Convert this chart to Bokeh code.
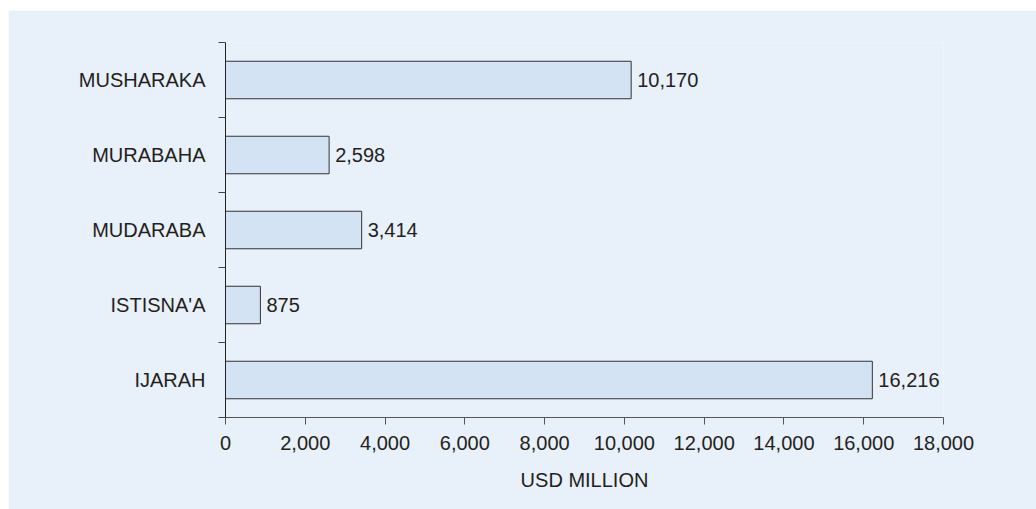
from bokeh.plotting import figure
from bokeh.models import Range1d, FixedTicker, NumeralTickFormatter, LinearAxis, ColumnDataSource
from bokeh.core.properties import value
from bokeh.embed import file_html
from bokeh.resources import INLINE

# Data (top to bottom as shown)
categories = ["MUSHARAKA", "MURABAHA", "MUDARABA", "ISTISNA'A", "IJARAH"]
amounts = [10170, 2598, 3414, 875, 16216]
x_ticks = [0, 2000, 4000, 6000, 8000, 10000, 12000, 14000, 16000, 18000]
x_label = "USD MILLION"

n = len(categories)
# bottom-to-top positions
ypos = [n - 1 - i + 0.5 for i in range(n)]
labels = [f"{v:,}" for v in amounts]

PANEL = "#e8f0f9"
BAR = "#d3e3f3"
TEXT = "#231f20"
FONT = "Liberation Sans"
FS = "20px"

src = ColumnDataSource(dict(cat=categories, amt=amounts, y=ypos, lab=labels))

p = figure(width=1028, height=499, output_backend="svg", toolbar_location=None,
           x_range=Range1d(0, 18000), y_range=Range1d(0, n),
           x_axis_type=None, y_axis_type=None,
           min_border_left=217, min_border_right=93, min_border_top=32, min_border_bottom=92)
p.margin = (10, 0, 0, 8)
p.background_fill_color = PANEL
p.border_fill_color = PANEL
p.outline_line_color = None
p.xgrid.visible = False
p.ygrid.visible = False

p.hbar(y="y", right="amt", left=0, height=0.5, source=src,
       fill_color=BAR, line_color="#333333", line_width=1)
p.text(x="amt", y="y", text="lab", source=src, x_offset=6,
       text_baseline="middle", text_align="left",
       text_font=value(FONT), text_font_size=FS, text_color=TEXT)

xaxis = LinearAxis(ticker=FixedTicker(ticks=x_ticks),
                   formatter=NumeralTickFormatter(format="0,0"))
xaxis.axis_label = x_label
xaxis.axis_line_color = "#555555"
xaxis.major_tick_line_color = "#555555"
xaxis.major_tick_out = 7
xaxis.major_tick_in = 0
xaxis.minor_tick_line_color = None
xaxis.major_label_standoff = 11
xaxis.major_label_text_font = FONT
xaxis.major_label_text_font_size = FS
xaxis.major_label_text_color = TEXT
xaxis.axis_label_text_font = FONT
xaxis.axis_label_text_font_size = FS
xaxis.axis_label_text_font_style = "normal"
xaxis.axis_label_text_color = TEXT
xaxis.axis_label_standoff = 16
p.add_layout(xaxis, "below")

bounds = [float(i) for i in range(n + 1)]
yaxis = LinearAxis(ticker=FixedTicker(ticks=ypos, minor_ticks=bounds))
yaxis.major_label_overrides = {float(y): c for y, c in zip(ypos, categories)}
yaxis.axis_line_color = "#222222"
yaxis.major_tick_line_color = None
yaxis.major_tick_out = 0
yaxis.major_tick_in = 0
yaxis.minor_tick_line_color = "#444444"
yaxis.minor_tick_out = 7
yaxis.minor_tick_in = 0
yaxis.major_label_standoff = 13
yaxis.major_label_text_font = FONT
yaxis.major_label_text_font_size = FS
yaxis.major_label_text_color = TEXT
p.add_layout(yaxis, "left")

open("out.html", "w").write(file_html(p, INLINE))
